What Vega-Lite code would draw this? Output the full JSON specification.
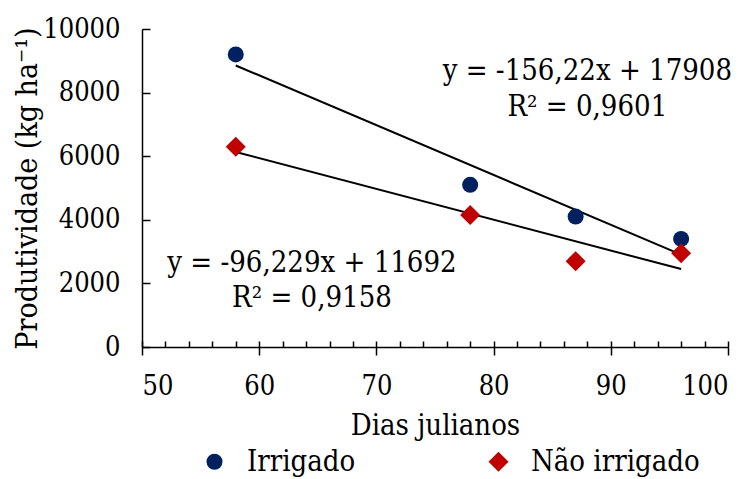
{
  "$schema": "https://vega.github.io/schema/vega-lite/v6.json",
  "width": 586,
  "height": 318,
  "padding": {"left": 12, "top": 15, "right": 20, "bottom": 0},
  "background": "white",
  "config": {
    "view": {"stroke": null},
    "font": "DejaVu Serif Condensed, DejaVu Serif",
    "axis": {"labelFont": "DejaVu Serif Condensed, DejaVu Serif", "titleFont": "DejaVu Serif Condensed, DejaVu Serif", "labelFontSize": 27, "titleFontSize": 29, "titleFontWeight": "normal", "labelColor": "black", "titleColor": "black", "domainColor": "black", "tickColor": "black", "grid": false, "domainWidth": 1.5, "tickWidth": 1.5},
    "legend": {"labelFont": "DejaVu Serif Condensed, DejaVu Serif", "labelFontSize": 29, "labelColor": "black", "labelLimit": 400}
  },
  "datasets": {
    "pts": [
      {"serie": "Irrigado", "dia": 58, "prod": 9200},
      {"serie": "Irrigado", "dia": 78, "prod": 5100},
      {"serie": "Irrigado", "dia": 87, "prod": 4100},
      {"serie": "Irrigado", "dia": 96, "prod": 3400},
      {"serie": "Não irrigado", "dia": 58, "prod": 6300},
      {"serie": "Não irrigado", "dia": 78, "prod": 4150},
      {"serie": "Não irrigado", "dia": 87, "prod": 2700},
      {"serie": "Não irrigado", "dia": 96, "prod": 2950}
    ],
    "ann": [
      {"dia": 88, "prod": 8683, "txt": "y = -156,22x + 17908"},
      {"dia": 88, "prod": 7555, "txt": "R² = 0,9601"},
      {"dia": 64.5, "prod": 2633, "txt": "y = -96,229x + 11692"},
      {"dia": 64.5, "prod": 1536, "txt": "R² = 0,9158"}
    ]
  },
  "layer": [
    {
      "data": {"name": "pts"},
      "transform": [{"regression": "prod", "on": "dia", "groupby": ["serie"], "extent": [58, 96]}],
      "mark": {"type": "line", "color": "black", "strokeWidth": 2},
      "encoding": {
        "x": {"field": "dia", "type": "quantitative", "scale": {"domain": [50, 100], "nice": false},
              "axis": {"values": [50, 60, 70, 80, 90, 100], "tickSize": 8, "title": "Dias julianos", "labelPadding": 18, "titlePadding": 12, "orient": "bottom"}},
        "y": {"field": "prod", "type": "quantitative", "scale": {"domain": [0, 10000], "nice": false},
              "axis": {"values": [0, 2000, 4000, 6000, 8000, 10000], "format": "d", "tickSize": -8, "labelPadding": 30, "title": "Produtividade (kg ha⁻¹)", "titleFontSize": 30, "titlePadding": 0}},
        "detail": {"field": "serie"}
      }
    },
    {
      "data": {"name": "pts"},
      "mark": {"type": "point", "filled": true, "opacity": 1},
      "encoding": {
        "x": {"field": "dia", "type": "quantitative", "axis": null},
        "y": {"field": "prod", "type": "quantitative"},
        "color": {"field": "serie", "type": "nominal", "scale": {"domain": ["Irrigado", "Não irrigado"], "range": ["#002060", "#C00000"]},
                  "legend": {"title": null, "orient": "none", "legendX": 58, "legendY": 418, "direction": "horizontal", "columnPadding": 128, "labelOffset": 18, "labelLimit": 400, "symbolSize": 256}},
        "shape": {"field": "serie", "type": "nominal", "scale": {"domain": ["Irrigado", "Não irrigado"], "range": ["circle", "M0,-1.25L1.25,0L0,1.25L-1.25,0Z"]}},
        "size": {"value": 256}
      }
    },
    {
      "data": {"name": "ann"},
      "mark": {"type": "text", "fontSize": 29, "font": "DejaVu Serif Condensed, DejaVu Serif", "color": "black"},
      "encoding": {
        "x": {"field": "dia", "type": "quantitative", "axis": null},
        "y": {"field": "prod", "type": "quantitative"},
        "text": {"field": "txt"}
      }
    },
    {
      "data": {"name": "pts"},
      "mark": {"type": "point", "opacity": 0},
      "encoding": {
        "x": {"field": "dia", "type": "quantitative",
              "axis": {"orient": "bottom", "values": [50,52,54,56,58,60,62,64,66,68,70,72,74,76,78,80,82,84,86,88,90,92,94,96,98,100], "tickSize": -6, "labels": false, "domain": false, "title": null}}
      }
    }
  ],
  "resolve": {"axis": {"x": "independent"}}
}
